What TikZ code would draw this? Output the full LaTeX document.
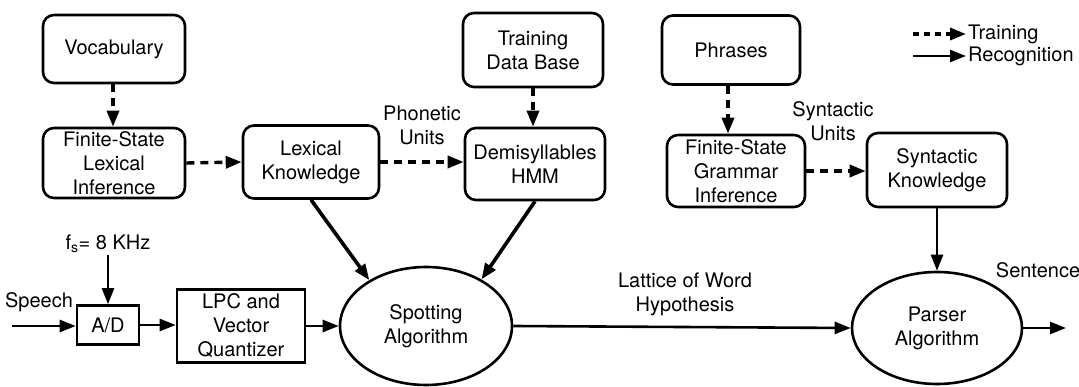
\documentclass[tikz,border=0pt]{standalone}
\usepackage{fontspec}
\setmainfont{TeX Gyre Heros}
\usetikzlibrary{arrows.meta,shapes.geometric,calc}
\begin{document}
\begin{tikzpicture}[x=1pt,y=-1pt,
  font=\fontsize{20}{24}\selectfont,
  >={Triangle[length=16pt,width=12pt]},
  rbox/.style={draw,line width=2.6pt,rounded corners=11pt,align=center,inner sep=0pt},
  sbox/.style={draw,line width=2.6pt,align=center,inner sep=0pt},
  oval/.style={draw,ellipse,line width=2.6pt,align=center,inner sep=0pt},
  lbl/.style={align=center,inner sep=0pt},
  train/.style={->,dash pattern=on 8pt off 6pt,line width=3.4pt},
  recog/.style={->,line width=3.6pt},
  flow/.style={->,line width=2.6pt}
]
\useasboundingbox (0,0) rectangle (1079,387);

% training boxes
\node[rbox,minimum width=142,minimum height=68] (voc) at (114,49) {Vocabulary};
\node[rbox,minimum width=142,minimum height=70] (fsli) at (114,163) {Finite-State\\Lexical\\Inference};
\node[rbox,minimum width=136,minimum height=73] (lex) at (311,162) {Lexical\\Knowledge};
\node[rbox,minimum width=140,minimum height=74] (tdb) at (533,50) {Training\\Data Base};
\node[rbox,minimum width=140,minimum height=72] (dem) at (535,164) {Demisyllables\\HMM};
\node[rbox,minimum width=138,minimum height=69] (phr) at (731,50) {Phrases};
\node[rbox,minimum width=138,minimum height=72] (fsgi) at (736,171) {Finite-State\\Grammar\\Inference};
\node[rbox,minimum width=140,minimum height=74] (synk) at (937,170) {Syntactic\\Knowledge};

% recognition chain
\node[sbox,minimum width=62,minimum height=39] (ad) at (108,325) {A/D};
\node[sbox,minimum width=128,minimum height=73] (lpc) at (241,326) {LPC and\\Vector\\Quantizer};
\node[oval,minimum width=172,minimum height=118] (spot) at (426,326) {Spotting\\Algorithm};
\node[oval,minimum width=170,minimum height=112] (parser) at (937,328) {Parser\\Algorithm};

% labels
\node[lbl] (phon) at (422,125) {Phonetic\\Units};
\node[lbl] (synu) at (833,121) {Syntactic\\Units};
\node[lbl] (lat) at (685,294) {Lattice of Word\\Hypothesis};
\node[lbl] (sent) at (1038,270) {Sentence};
\node[lbl] (speech) at (39,302) {Speech};
\node[lbl] (fs) at (108,244) {f\textsubscript{s}= 8 KHz};
\coordinate (sin) at (12,326);
\coordinate (sout) at (1066,328);

% legend
\coordinate (lt1) at (913,34);
\coordinate (lt2) at (966,34);
\coordinate (lr1) at (913,56);
\coordinate (lr2) at (966,56);
\node[lbl,anchor=west] (ltr) at (968,34) {Training};
\node[lbl,anchor=west] (lrc) at (968,56) {Recognition};
\draw[train,dash pattern=on 6pt off 5pt] (lt1) -- (lt2);
\draw[flow] (lr1) -- (lr2);

% training connectors
\draw[train] ([xshift=-1pt]voc.south) -- ([xshift=-1pt]fsli.north);
\draw[train] (fsli.east) -- (lex.west);
\draw[train] (lex.east) -- (lex.east -| dem.west);
\draw[train] (tdb.south) -- (tdb.south |- dem.north);
\draw[train] ([xshift=-3pt]phr.south) -- ([xshift=-8pt]fsgi.north);
\draw[train] (fsgi.east) -- (fsgi.east -| synk.west);

% recognition connectors
\draw[recog] (lex.south) -- (spot.141);
\draw[recog] (dem.south) -- (spot.40);
\draw[flow] (synk.south) -- (parser.north);
\draw[flow] (sin) -- (sin -| ad.west);
\draw[flow] ([yshift=8pt]fs.south) ++(0,10) coordinate (fsa) -- (ad.north);
\draw[flow] (ad.east) -- (ad.east -| lpc.west);
\draw[flow] (lpc.east) -- (lpc.east -| spot.west);
\draw[flow] (spot.east) -- (parser.west);
\draw[flow] (parser.east) -- (sout);
\end{tikzpicture}
\end{document}
